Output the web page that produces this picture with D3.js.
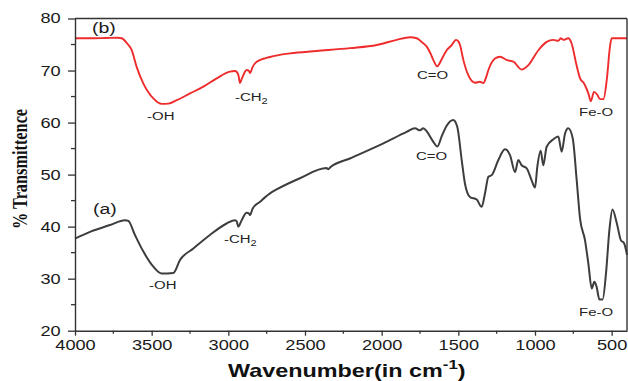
<!DOCTYPE html>
<html><head><meta charset="utf-8">
<script src="https://cdn.jsdelivr.net/npm/d3@7"></script>
<style>body{margin:0;background:#fff}svg{display:block}</style>
</head><body><svg id="c" width="628" height="381"></svg>
<script>
// ---- data ----
const waveB = [4000,3900,3800,3720,3695,3660,3630,3598,3554,3489,3435,3391,3337,3250,3163,3076,2989,2956,2935,2924,2910,2880,2865,2859,2841,2815,2728,2598,2424,2207,2032,1902,1815,1771,1739,1706,1680,1663,1637,1620,1608,1576,1543,1515,1500,1489,1467,1435,1391,1359,1337,1320,1304,1261,1228,1184,1141,1087,1043,978,924,880,848,832,815,783,761,732,706,680,652,636,615,593,576,554,532,511,500,400];
const transB = [76.2,76.2,76.25,76.3,76.2,75.2,73.9,70.7,67.5,64.65,63.6,63.65,64.3,65.6,66.9,68.5,69.8,69.9,69.2,67.6,68.6,70.1,69.9,69.5,70.7,71.7,72.6,73.3,73.75,74.3,74.9,75.9,76.4,76.2,75.5,74.6,73.2,72.0,70.8,71.5,72.2,73.9,74.9,75.9,75.6,74.9,72.0,69.1,67.65,67.85,67.6,68.6,70.1,72.3,72.65,72.0,71.7,70.2,71.05,73.9,75.5,75.9,75.7,76.2,75.9,76.2,75.2,71.4,68.5,67.5,65.6,64.1,65.9,65.3,64.5,64.5,68.2,74.6,76.2,76.2];
const waveA = [4000,3902,3772,3674,3652,3609,3554,3489,3435,3359,3315,3228,3120,3011,2956,2945,2935,2913,2880,2865,2859,2841,2793,2728,2685,2533,2360,2348,2335,2207,1989,1837,1783,1750,1728,1706,1663,1637,1608,1576,1533,1507,1478,1457,1424,1380,1348,1326,1304,1282,1239,1196,1163,1130,1109,1087,1054,1022,1000,985,963,946,924,880,848,826,804,783,754,728,706,674,652,630,613,598,580,559,537,515,495,466,440,419,400];
const transA = [37.7,39.0,40.3,41.25,41.1,38.4,35.2,32.3,31.0,31.1,33.6,35.8,38.4,40.6,41.25,41.0,40.0,41.25,42.65,42.5,42.2,43.5,44.8,46.4,47.15,49.3,51.25,51.05,51.4,53.1,56.0,58.2,58.9,58.5,58.9,58.3,56.3,55.4,57.4,59.4,60.5,59.2,52.8,48.3,45.7,45.2,43.8,46.4,49.6,49.9,52.8,54.85,53.75,50.5,52.8,51.8,51.2,48.9,47.5,51.5,54.6,51.8,55.35,56.8,57.3,54.4,57.9,58.9,57.0,48.9,41.5,37.4,32.9,28.1,29.4,28.4,26.0,26.0,31.0,39.3,43.3,40.6,37.4,36.8,34.6];
const xTickValues = [4000,3500,3000,2500,2000,1500,1000,500];
const xMinorTicks = [3750,3250,2750,2250,1750,1250,750];
const yTickValues = [20,30,40,50,60,70,80];
const yMinorTicks = [25,35,45,55,65,75];
const seriesNames = ["(a)","(b)"];
const seriesNameWave = [3883,3889];
const seriesNameT = [42.4,77.2];
const peakTextB = ["-OH","-CH","C=O","Fe-O"];
const peakWaveB = [3530,2957,1770,713];
const peakTB = [60.5,64.05,68.4,61.3];
const peakTextA = ["-OH","-CH","C=O","Fe-O"];
const peakWaveA = [3517,3028,1776,713];
const peakTA = [28.0,36.85,52.8,22.8];

// ---- chart ----
const svg = d3.select("#c");
const SX = 1.3; // horizontal stretch of the text in the reference
const x = d3.scaleLinear().domain([4000,400]).range([75,627]);
const y = d3.scaleLinear().domain([20,80]).range([330.7,18.5]);
const axisColor = "#333";

const line = d3.line().x(d=>x(d[0])).y(d=>y(d[1])).curve(d3.curveMonotoneX);
svg.append("path").datum(d3.zip(waveB,transB)).attr("d",line)
  .attr("fill","none").attr("stroke","#ee2c2c").attr("stroke-width",1.9).attr("stroke-linejoin","round");
svg.append("path").datum(d3.zip(waveA,transA)).attr("d",line)
  .attr("fill","none").attr("stroke","#3d3d3d").attr("stroke-width",2).attr("stroke-linejoin","round");

// frame top/right
svg.append("line").attr("x1",x(4000)).attr("x2",x(400)).attr("y1",y(80)).attr("y2",y(80)).attr("stroke",axisColor).attr("stroke-width",1.4);
svg.append("line").attr("x1",x(400)).attr("x2",x(400)).attr("y1",y(80)).attr("y2",y(20)).attr("stroke",axisColor).attr("stroke-width",1.4);

const gx = svg.append("g").attr("transform",`translate(0,${y(20)})`)
  .call(d3.axisBottom(x).tickValues(xTickValues).tickFormat(d3.format("d")).tickSize(5).tickPadding(4).tickSizeOuter(0));
const gy = svg.append("g").attr("transform",`translate(${x(4000)},0)`)
  .call(d3.axisLeft(y).tickValues(yTickValues).tickFormat(d3.format("d")).tickSize(7).tickPadding(4).tickSizeOuter(0));
[gx,gy].forEach(g=>{
  g.select(".domain").attr("stroke",axisColor).attr("stroke-width",1.4);
  g.selectAll(".tick line").attr("stroke",axisColor).attr("stroke-width",1.3);
  g.selectAll(".tick text").attr("font-family","'Liberation Sans',Arial,sans-serif")
    .attr("font-size",14).attr("fill","#1a1a1a").attr("transform",`scale(${SX},1)`);
});
gx.selectAll(".minor").data(xMinorTicks).enter().append("line")
  .attr("x1",d=>x(d)).attr("x2",d=>x(d)).attr("y1",0).attr("y2",3)
  .attr("stroke",axisColor).attr("stroke-width",1.3);
gy.selectAll(".minor").data(yMinorTicks).enter().append("line")
  .attr("y1",d=>y(d)).attr("y2",d=>y(d)).attr("x1",0).attr("x2",-4)
  .attr("stroke",axisColor).attr("stroke-width",1.3);

// axis titles
const xt = svg.append("text").attr("transform",`translate(228,377) scale(${SX},1)`)
  .attr("font-family","'Liberation Sans',Arial,sans-serif").attr("font-weight","bold")
  .attr("font-size",18).attr("fill","#111");
xt.append("tspan").text("Wavenumber(in cm");
xt.append("tspan").attr("font-size",13).attr("dy",-8).text("-1");
xt.append("tspan").attr("dy",8).text(")");

svg.append("text").attr("transform",`translate(27,169) rotate(-90) scale(1,${SX})`)
  .attr("text-anchor","middle").attr("font-family","'Liberation Serif','Times New Roman',serif")
  .attr("font-weight","bold").attr("font-size",16.3).attr("fill","#111")
  .text("% Transmittence");

// series labels
seriesNames.forEach((s,i)=>{
  svg.append("text").attr("transform",`translate(${x(seriesNameWave[i])},${y(seriesNameT[i])}) scale(${SX},1)`)
    .attr("font-family","'Liberation Sans',Arial,sans-serif").attr("font-size",15).attr("fill","#1a1a1a").text(s);
});

function peak(t,w,v){
  const tx = svg.append("text").attr("transform",`translate(${x(w)},${y(v)}) scale(${SX},1)`)
    .attr("font-family","'Liberation Sans',Arial,sans-serif").attr("font-size",11.5).attr("fill","#222");
  tx.append("tspan").text(t);
  if(t==="-CH") tx.append("tspan").attr("font-size",8.5).attr("dy",3).text("2");
}
peakTextB.forEach((t,i)=>peak(t,peakWaveB[i],peakTB[i]));
peakTextA.forEach((t,i)=>peak(t,peakWaveA[i],peakTA[i]));
</script></body></html>
